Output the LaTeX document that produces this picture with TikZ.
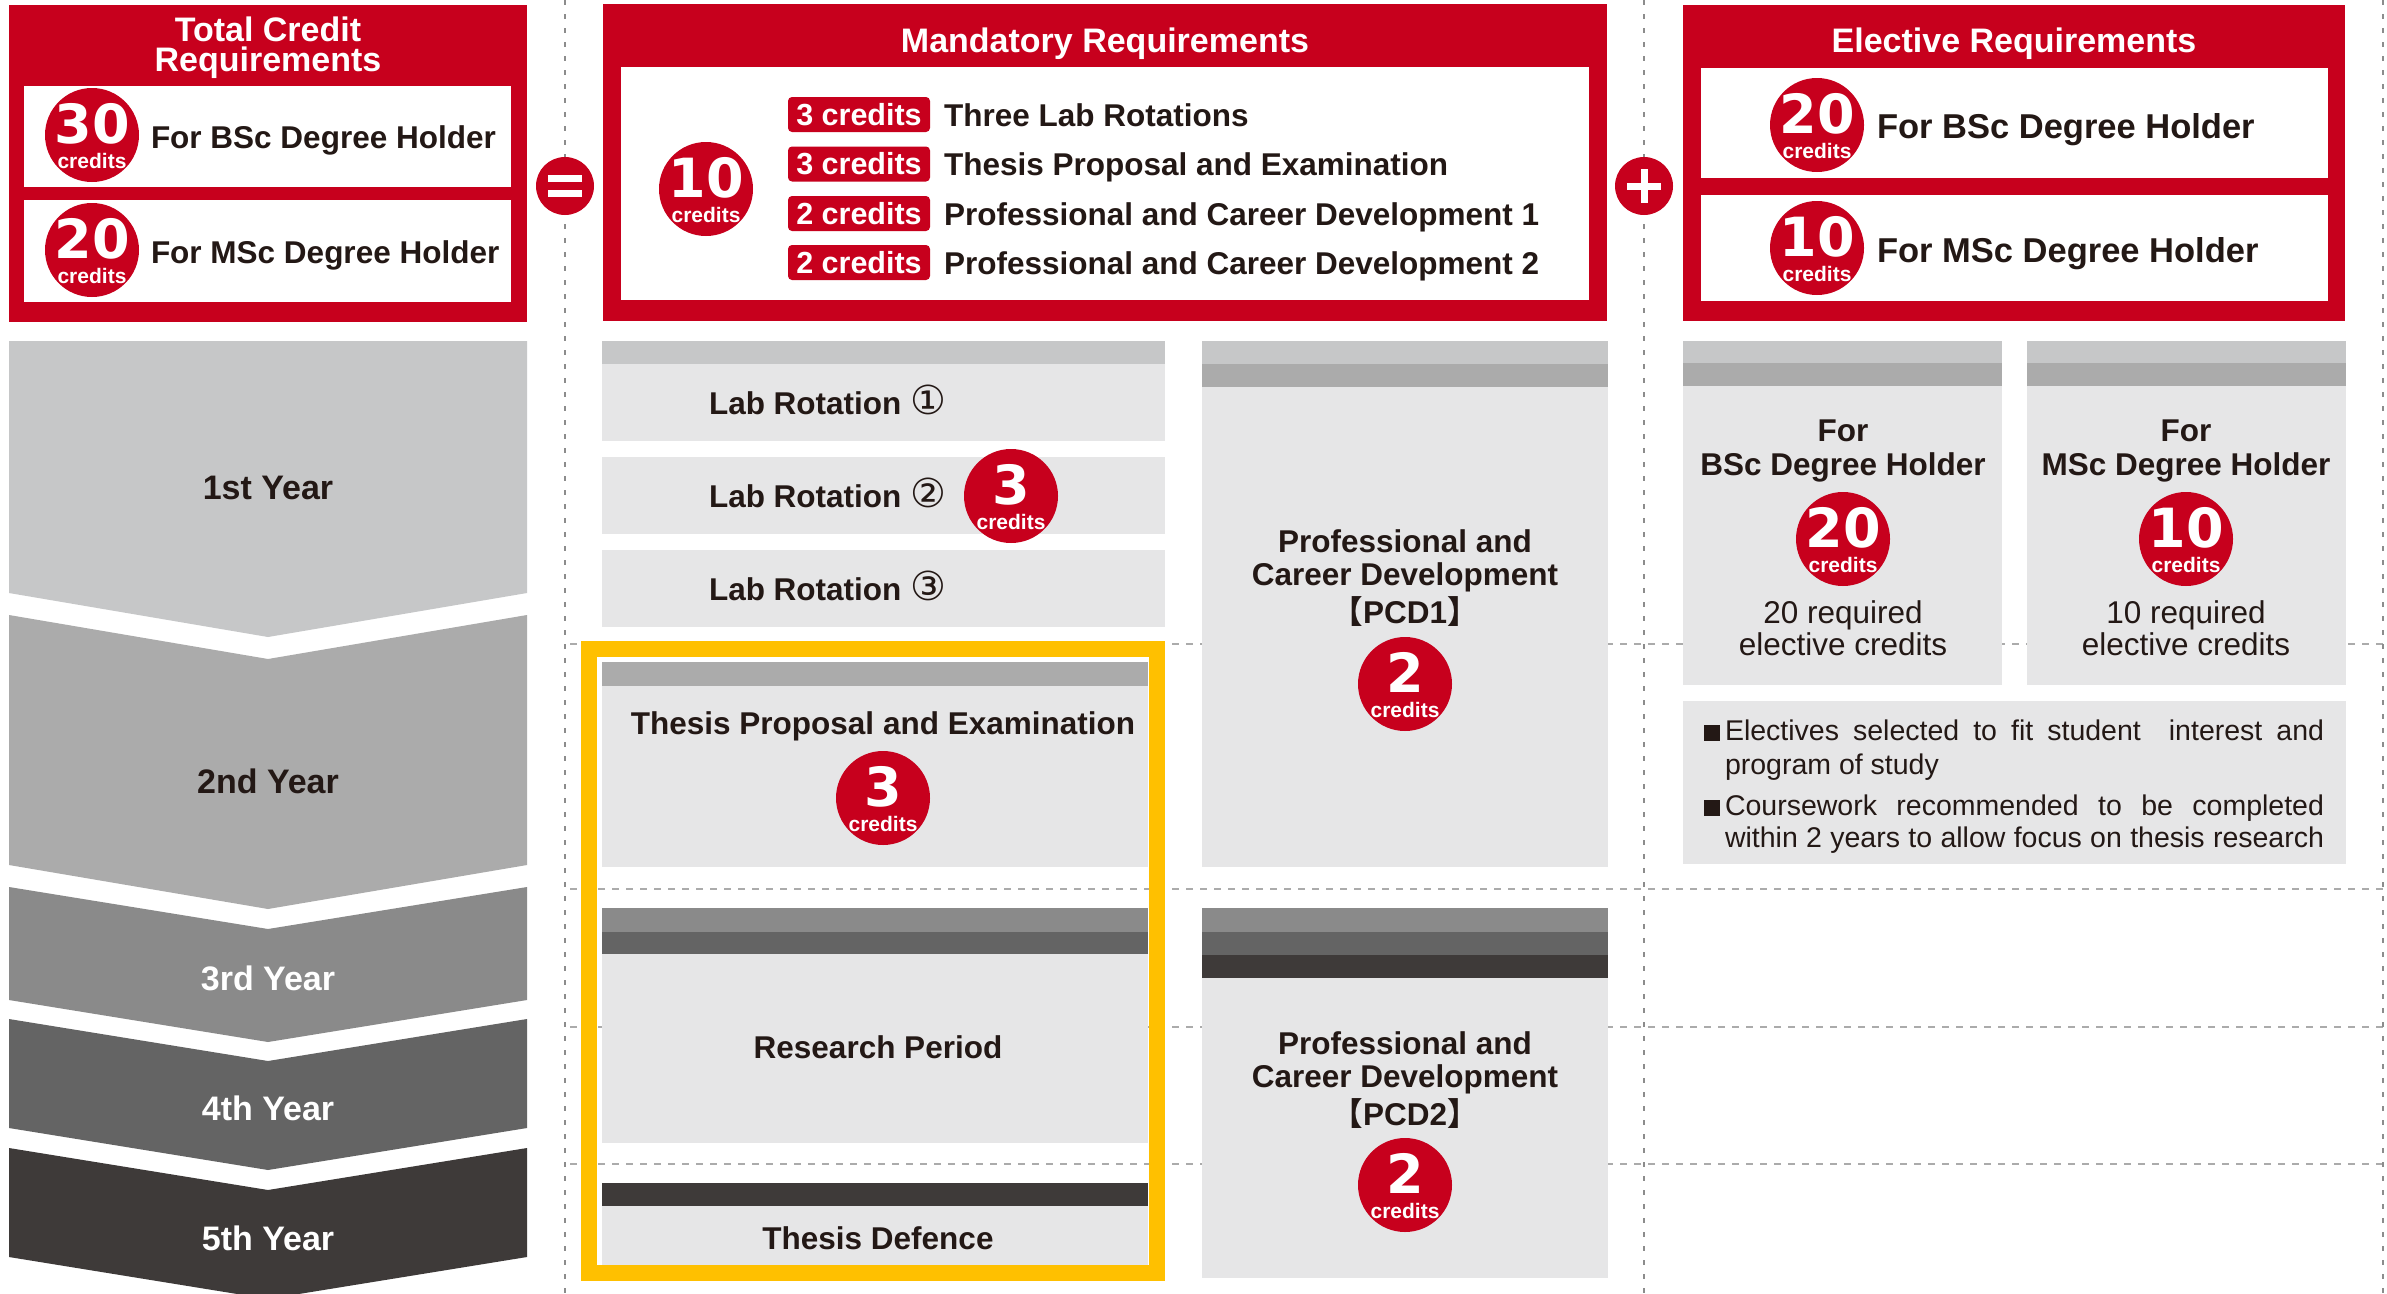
\documentclass[tikz,border=0pt]{standalone}
\usepackage{fontspec}
\setmainfont{Liberation Sans}
\newfontfamily\numfont{DejaVu Sans}
\newfontfamily\symfont{DejaVu Sans}
\newfontfamily\cjkfont{Noto Sans CJK JP}
\definecolor{myred}{HTML}{C7001D}
\definecolor{ink}{HTML}{231815}
\definecolor{boxgray}{HTML}{E6E6E7}
\definecolor{ga}{HTML}{C6C7C8}
\definecolor{gb}{HTML}{ABABAB}
\definecolor{gc}{HTML}{8A8A8A}
\definecolor{gd}{HTML}{646464}
\definecolor{ge}{HTML}{3E3A39}
\definecolor{yel}{HTML}{FFC000}
\definecolor{dashv}{HTML}{8C8C8C}
\definecolor{dashh}{HTML}{ABABAB}
\tikzset{
  tb/.style={inner sep=0pt, outer sep=0pt, text=ink, font=\fontsize{31.5}{36}\selectfont\bfseries},
  tr/.style={inner sep=0pt, outer sep=0pt, text=ink, font=\fontsize{31.5}{36}\selectfont},
  tn/.style={inner sep=0pt, outer sep=0pt, text=ink, font=\fontsize{28.5}{34}\selectfont},
  hdr/.style={inner sep=0pt, outer sep=0pt, text=white, font=\fontsize{34}{34}\selectfont\bfseries},
  eh/.style={inner sep=0pt, outer sep=0pt, text=ink, font=\fontsize{34.5}{36}\selectfont\bfseries},
  yr/.style={inner sep=0pt, outer sep=0pt, font=\fontsize{34}{36}\selectfont\bfseries},
  num/.style={inner sep=0pt, text=white, font=\numfont\bfseries\fontsize{54}{54}\selectfont},
  crd/.style={inner sep=0pt, text=white, font=\fontsize{21}{21}\selectfont\bfseries},
  rc/.style={circle, fill=myred, minimum size=94pt, inner sep=0pt},
  opc/.style={circle, fill=myred, minimum size=58pt, inner sep=0pt},
  badge/.style={fill=myred, rounded corners=4pt, minimum width=142pt, minimum height=35pt, inner sep=0pt, text=white, font=\fontsize{30.5}{30.5}\selectfont\bfseries},
  vdash/.style={draw=dashv, line width=2.2pt, dash pattern=on 5pt off 9pt},
  hdash/.style={draw=dashh, line width=2.6pt, dash pattern=on 7pt off 7pt},
  bullet/.style={fill=ink, minimum size=16pt, inner sep=0pt},
}
\newcommand\credcirc[4]{%
  \node[rc] (#1) at (#2,#3) {};
  \node[num, anchor=base] (#1-n) at (#2,#3+8) {#4};
  \node[crd, anchor=base] (#1-c) at (#2,#3+33) {credits};
}
\newcommand\cdig[1]{{\symfont\mdseries\fontsize{40}{40}\selectfont #1}}
\begin{document}
\begin{tikzpicture}[x=1pt,y=-1pt]
\useasboundingbox (0,0) rectangle (2387,1293);
\fill[white] (0,0) rectangle (2387,1293);
\clip (0,0) rectangle (2387,1293);

% dashed guide lines
\foreach \yy in {644,889,1027,1164} \draw[hdash] (570,\yy) -- (2383,\yy);
\foreach \xx in {565,1644,2383} \draw[vdash] (\xx,0) -- (\xx,1293);

% ---------- Total credit box ----------
\fill[myred] (9,5) rectangle (527,322);
\node[hdr, align=center, anchor=north, font=\fontsize{34}{29.5}\selectfont\bfseries] (tcr) at (268,17) {Total Credit\\Requirements};
\fill[white] (24,86) rectangle (511,187);
\fill[white] (24,200) rectangle (511,302);
\credcirc{c30}{92}{135}{30}
\node[tb, anchor=base west] (l1t) at (151,148) {For BSc Degree Holder};
\credcirc{c20}{92}{250}{20}
\node[tb, anchor=base west] (l2t) at (151,263) {For MSc Degree Holder};

% equals sign
\node[opc] (eq) at (565,186) {};
\fill[white] (548,175) rectangle (582,182);
\fill[white] (548,190) rectangle (582,197);

% ---------- Mandatory box ----------
\fill[myred] (603,4) rectangle (1607,321);
\node[hdr, anchor=base] (mtitle) at (1105,52) {Mandatory Requirements};
\fill[white] (621,67) rectangle (1589,300);
\credcirc{c10}{706}{189}{10}
\node[badge] (bd1) at (859,114.5) {3 credits};
\node[badge] (bd2) at (859,164) {3 credits};
\node[badge] (bd3) at (859,213.5) {2 credits};
\node[badge] (bd4) at (859,262.5) {2 credits};
\node[tb, anchor=base west] (it1) at (944,126) {Three Lab Rotations};
\node[tb, anchor=base west] (it2) at (944,175.5) {Thesis Proposal and Examination};
\node[tb, anchor=base west] (it3) at (944,225) {Professional and Career Development 1};
\node[tb, anchor=base west] (it4) at (944,274) {Professional and Career Development 2};

% plus sign
\node[opc] (plus) at (1644,186) {};
\fill[white] (1627,182.5) rectangle (1661,189.5);
\fill[white] (1640.5,169) rectangle (1647.5,203);

% ---------- Elective box ----------
\fill[myred] (1683,5) rectangle (2345,321);
\node[hdr, anchor=base] (etitle) at (2014,52) {Elective Requirements};
\fill[white] (1701,68) rectangle (2328,178);
\fill[white] (1701,195) rectangle (2328,301);
\credcirc{ce20}{1817}{125}{20}
\node[eh, anchor=base west] (e1t) at (1877,138) {For BSc Degree Holder};
\credcirc{ce10}{1817}{248}{10}
\node[eh, anchor=base west] (e2t) at (1877,262) {For MSc Degree Holder};

% ---------- Year chevrons ----------
\fill[ga] (9,341) -- (527,341) -- (527,593) -- (268,637) -- (9,593) -- cycle;
\fill[gb] (9,615) -- (268,659) -- (527,615) -- (527,865) -- (268,909) -- (9,865) -- cycle;
\fill[gc] (9,887) -- (268,929) -- (527,887) -- (527,1000) -- (268,1042) -- (9,1000) -- cycle;
\fill[gd] (9,1019) -- (268,1061) -- (527,1019) -- (527,1128) -- (268,1170) -- (9,1128) -- cycle;
\fill[ge] (9,1148) -- (268,1190) -- (527,1148) -- (527,1257) -- (268,1299) -- (9,1257) -- cycle;
\node[yr, text=ink, anchor=base] (y1) at (268,499) {1st Year};
\node[yr, text=ink, anchor=base] (y2) at (268,793) {2nd Year};
\node[yr, text=white, anchor=base] (y3) at (268,990) {3rd Year};
\node[yr, text=white, anchor=base] (y4) at (268,1120) {4th Year};
\node[yr, text=white, anchor=base] (y5) at (268,1250) {5th Year};

% ---------- Lab rotations ----------
\fill[boxgray] (602,341) rectangle (1165,441);
\fill[ga] (602,341) rectangle (1165,364);
\fill[boxgray] (602,457) rectangle (1165,534);
\fill[boxgray] (602,550) rectangle (1165,627);
\node[tb, anchor=base west] (lr1) at (709,414) {Lab Rotation \cdig{①}};
\node[tb, anchor=base west] (lr2) at (709,507) {Lab Rotation \cdig{②}};
\node[tb, anchor=base west] (lr3) at (709,600) {Lab Rotation \cdig{③}};
\credcirc{clr}{1011}{496}{3}

% ---------- PCD1 ----------
\fill[boxgray] (1202,341) rectangle (1608,867);
\fill[ga] (1202,341) rectangle (1608,364);
\fill[gb] (1202,364) rectangle (1608,387);
\node[tb, anchor=base] (p1a) at (1405,552) {Professional and};
\node[tb, anchor=base] (p1b) at (1405,585) {Career Development};
\node[tb, anchor=base] (p1c) at (1405,623) {{\cjkfont 【}PCD1{\cjkfont 】}};
\credcirc{cp1}{1405}{684}{2}

% ---------- Thesis column ----------
\fill[boxgray] (602,662) rectangle (1148,867);
\fill[gb] (602,662) rectangle (1148,686);
\node[tb, anchor=base] (thp) at (883,734) {Thesis Proposal and Examination};
\credcirc{cth}{883}{798}{3}

\fill[boxgray] (602,908) rectangle (1148,1143);
\fill[gc] (602,908) rectangle (1148,932);
\fill[gd] (602,932) rectangle (1148,954);
\node[tb, anchor=base] (rp) at (878,1058) {Research Period};

\fill[boxgray] (602,1183) rectangle (1148,1265);
\fill[ge] (602,1183) rectangle (1148,1206);
\node[tb, anchor=base] (td) at (878,1249) {Thesis Defence};

\draw[yel, line width=16pt] (588.5,649) rectangle (1157,1272.5);

% ---------- PCD2 ----------
\fill[boxgray] (1202,908) rectangle (1608,1278);
\fill[gc] (1202,908) rectangle (1608,932);
\fill[gd] (1202,932) rectangle (1608,955);
\fill[ge] (1202,955) rectangle (1608,978);
\node[tb, anchor=base] (p2a) at (1405,1054) {Professional and};
\node[tb, anchor=base] (p2b) at (1405,1087) {Career Development};
\node[tb, anchor=base] (p2c) at (1405,1125) {{\cjkfont 【}PCD2{\cjkfont 】}};
\credcirc{cp2}{1405}{1185}{2}

% ---------- Elective sub boxes ----------
\fill[boxgray] (1683,341) rectangle (2002,685);
\fill[ga] (1683,341) rectangle (2002,363);
\fill[gb] (1683,363) rectangle (2002,386);
\fill[boxgray] (2027,341) rectangle (2346,685);
\fill[ga] (2027,341) rectangle (2346,363);
\fill[gb] (2027,363) rectangle (2346,386);
\node[tb, anchor=base] (eb1) at (1843,441) {For};
\node[tb, anchor=base] (eb2) at (1843,475) {BSc Degree Holder};
\credcirc{cs20}{1843}{539}{20}
\node[tr, anchor=base] (eb3) at (1843,623) {20 required};
\node[tr, anchor=base] (eb4) at (1843,655) {elective credits};
\node[tb, anchor=base] (em1) at (2186,441) {For};
\node[tb, anchor=base] (em2) at (2186,475) {MSc Degree Holder};
\credcirc{cs10}{2186}{539}{10}
\node[tr, anchor=base] (em3) at (2186,623) {10 required};
\node[tr, anchor=base] (em4) at (2186,655) {elective credits};

% notes
\fill[boxgray] (1683,701) rectangle (2346,864);
\node[bullet] (bl1) at (1712,733) {};
\node[bullet] (bl2) at (1712,808) {};
\node[tn, anchor=base west] (n1a) at (1725,740) {\makebox[599pt][s]{Electives selected to fit student\ \ interest and}};
\node[tn, anchor=base west] (n1b) at (1725,774) {program of study};
\node[tn, anchor=base west] (n2a) at (1725,815) {\makebox[599pt][s]{Coursework recommended to be completed}};
\node[tn, anchor=base west] (n2b) at (1725,847) {\makebox[599pt][s]{within 2 years to allow focus on thesis research}};
\end{tikzpicture}
\end{document}
